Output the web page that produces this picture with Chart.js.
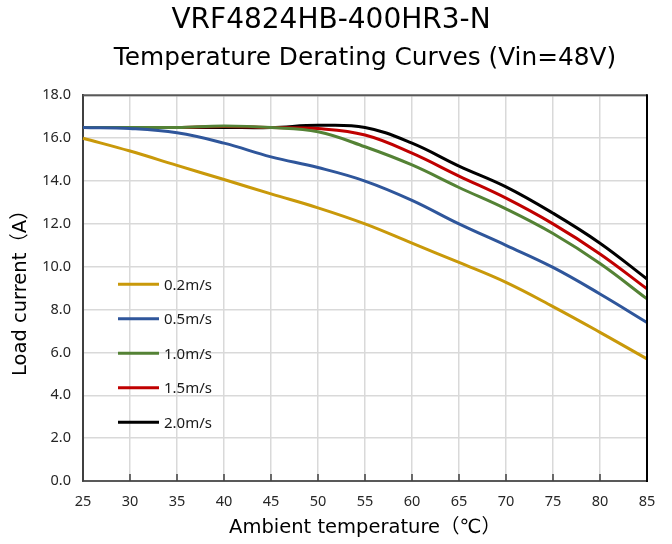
<!DOCTYPE html>
<html>
<head>
<meta charset="utf-8">
<title>VRF4824HB-400HR3-N derating</title>
<script src="https://cdn.jsdelivr.net/npm/chart.js@4.4.1/dist/chart.umd.min.js"></script>
<style>
    html, body { margin: 0; padding: 0; background: #fff; }
    canvas { display: block; }
</style>
</head>
<body>
<canvas id="chart" width="672" height="544"></canvas>
<script>
// Ambient temperature (°C) along the x axis
const temps = [25, 30, 35, 40, 45, 50, 55, 60, 65, 70, 75, 80, 85];

// Load current (A) per airflow
const air02 = [16.0, 15.4, 14.73, 14.07, 13.4, 12.75, 12.0, 11.1, 10.2, 9.27, 8.14, 6.94, 5.7];
const air05 = [16.5, 16.45, 16.25, 15.77, 15.13, 14.63, 14.0, 13.1, 12.0, 11.0, 9.97, 8.73, 7.4];
const air10 = [16.5, 16.5, 16.5, 16.57, 16.5, 16.3, 15.6, 14.75, 13.7, 12.7, 11.55, 10.15, 8.5];
const air15 = [16.5, 16.5, 16.5, 16.55, 16.5, 16.45, 16.15, 15.3, 14.23, 13.2, 12.0, 10.6, 8.97];
const air20 = [16.5, 16.5, 16.5, 16.5, 16.5, 16.6, 16.5, 15.77, 14.7, 13.73, 12.5, 11.1, 9.43];

const seriesLabels = ['0.2m/s', '0.5m/s', '1.0m/s', '1.5m/s', '2.0m/s'];
const seriesColors = ['#c9990a', '#2f569b', '#548235', '#c00000', '#000000'];

// y axis range / step
const yMin = 0;
const yMax = 18;
const yStep = 2;

const tickFont = { family: '"Noto Sans", "Liberation Sans", sans-serif', size: 14.5 };
const axisTitleFont = { family: '"DejaVu Sans", "Noto Sans CJK SC", sans-serif', size: 19.5 };

// legend drawn inside the plot, like the original
const insideLegend = {
    id: 'insideLegend',
    afterDraw(chart) {
        const { ctx, chartArea } = chart;
        const x0 = chartArea.left + 35;
        const y0 = chartArea.top + 189;
        ctx.save();
        chart.data.datasets.forEach((ds, i) => {
            const y = y0 + i * 34.5;
            ctx.strokeStyle = ds.borderColor;
            ctx.lineWidth = 3;
            ctx.beginPath();
            ctx.moveTo(x0, y);
            ctx.lineTo(x0 + 41, y);
            ctx.stroke();
            ctx.fillStyle = '#1a1a1a';
            ctx.font = '15px "Noto Sans", "Liberation Sans", sans-serif';
            ctx.textBaseline = 'middle';
            ctx.fillText(ds.label, x0 + 46, y + 1);
        });
        ctx.restore();
    }
};

// top/right frame and the little inward tick marks on the x axis
const plotFrame = {
    id: 'plotFrame',
    afterDraw(chart) {
        const { ctx, chartArea } = chart;
        const xScale = chart.scales.x;
        ctx.save();
        ctx.lineWidth = 2;
        ctx.strokeStyle = '#595959';
        ctx.beginPath();
        ctx.moveTo(chartArea.left, chartArea.top);
        ctx.lineTo(chartArea.right, chartArea.top);
        ctx.stroke();
        ctx.strokeStyle = '#000';
        ctx.beginPath();
        ctx.moveTo(chartArea.right, chartArea.top - 1);
        ctx.lineTo(chartArea.right, chartArea.bottom + 1);
        ctx.stroke();
        ctx.strokeStyle = '#404040';
        ctx.lineWidth = 1.5;
        for (let i = 1; i < temps.length - 1; i++) {
            const x = xScale.getPixelForTick(i);
            ctx.beginPath();
            ctx.moveTo(x, chartArea.bottom);
            ctx.lineTo(x, chartArea.bottom - 7);
            ctx.stroke();
        }
        ctx.restore();
    }
};

const series = [air02, air05, air10, air15, air20];

new Chart(document.getElementById('chart'), {
    type: 'line',
    data: {
        labels: temps,
        datasets: series.map((vals, i) => ({
            label: seriesLabels[i],
            data: vals,
            borderColor: seriesColors[i],
            backgroundColor: seriesColors[i],
            borderWidth: 3,
            pointRadius: 0,
            tension: 0.4,
            fill: false
        }))
    },
    options: {
        responsive: false,
        animation: false,
        devicePixelRatio: 1,
        // left padding shifts the main title's centre to where the original has it
        layout: { padding: { left: 15, right: 25, top: 0, bottom: 0 } },
        plugins: {
            legend: { display: false },
            tooltip: { enabled: false },
            title: {
                display: true,
                text: 'VRF4824HB-400HR3-N',
                color: '#000',
                font: { family: '"DejaVu Sans", sans-serif', size: 28, weight: 'normal' },
                padding: { top: 4, bottom: 6 }
            },
            subtitle: {
                display: true,
                fullSize: false,
                text: 'Temperature Derating Curves (Vin=48V)',
                color: '#000',
                font: { family: '"DejaVu Sans", sans-serif', size: 24.8, weight: 'normal' },
                padding: { top: 0, bottom: 22 }
            }
        },
        scales: {
            x: {
                grid: { color: '#d9d9d9', lineWidth: 1.5, drawTicks: false },
                border: { color: '#595959', width: 2 },
                ticks: { color: '#262626', font: tickFont, padding: 12, maxRotation: 0, autoSkip: false },
                title: {
                    display: true,
                    text: 'Ambient temperature（℃）',
                    color: '#000',
                    font: axisTitleFont,
                    padding: { top: 0, bottom: 4 }
                },
                afterFit(scale) { scale.height = 63; }
            },
            y: {
                min: yMin,
                max: yMax,
                grid: { color: '#d9d9d9', lineWidth: 1.5, drawTicks: false },
                border: { color: '#404040', width: 2 },
                ticks: {
                    stepSize: yStep,
                    color: '#262626',
                    font: tickFont,
                    padding: 12,
                    callback: v => v.toFixed(1)
                },
                title: {
                    display: true,
                    text: 'Load current（A）',
                    color: '#000',
                    font: axisTitleFont,
                    padding: { top: -6, bottom: 0 }
                },
                afterFit(scale) { scale.width = 68; }
            }
        }
    },
    plugins: [insideLegend, plotFrame]
});
</script>
</body>
</html>
